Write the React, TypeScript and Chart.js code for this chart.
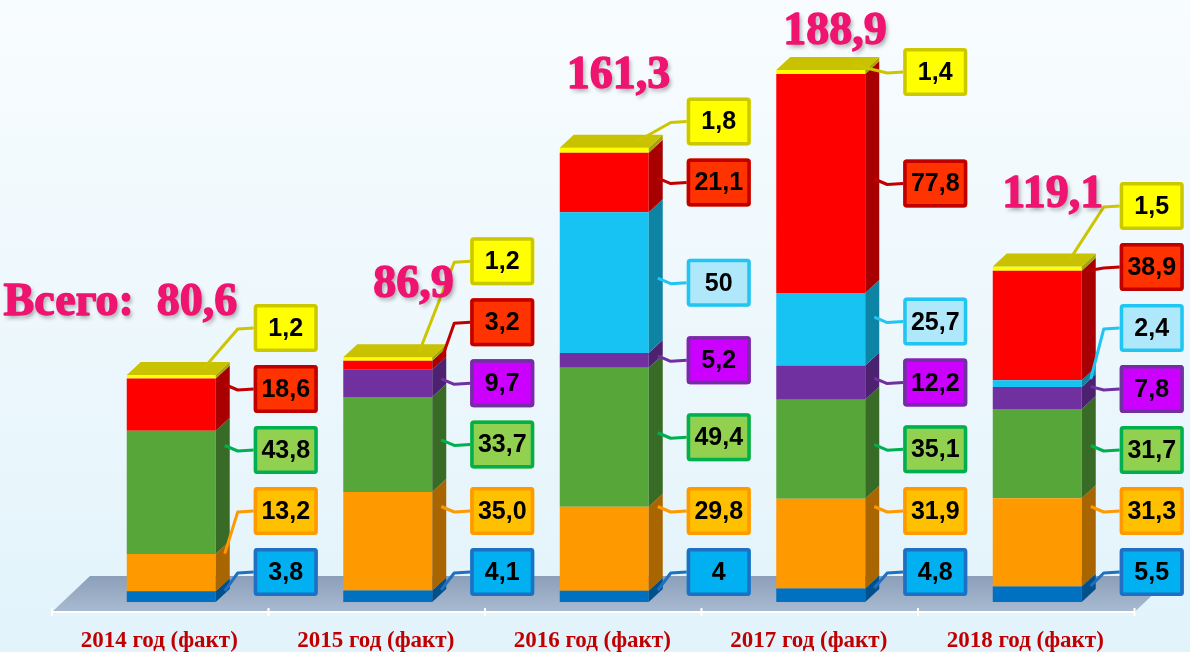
import React, { useEffect, useRef } from "react";
import { Chart, registerables } from "chart.js";

Chart.register(...registerables);

// ---------- data ----------
const categories = [
  "2014 год (факт)",
  "2015 год (факт)",
  "2016 год (факт)",
  "2017 год (факт)",
  "2018 год (факт)",
];
const blueValues = [3.8, 4.1, 4, 4.8, 5.5];
const orangeValues = [13.2, 35.0, 29.8, 31.9, 31.3];
const greenValues = [43.8, 33.7, 49.4, 35.1, 31.7];
const purpleValues = [0, 9.7, 5.2, 12.2, 7.8];
const cyanValues = [0, 0, 50, 25.7, 2.4];
const redValues = [18.6, 3.2, 21.1, 77.8, 38.9];
const yellowValues = [1.2, 1.2, 1.8, 1.4, 1.5];
const totals = [80.6, 86.9, 161.3, 188.9, 119.1];
const totalPrefix = "Всего:  ";
// labels that keep a trailing zero in the source picture: "series-category"
const trailingZeroLabels = ["1-1"];

// ---------- styles ----------
const seriesStyles = [
  { name: "blue", front: "#0070C0", side: "#00508C", box: "#00B0F0", border: "#1F6FC2", line: "#1F6FC2" },
  { name: "orange", front: "#FF9900", side: "#A86500", box: "#FFC000", border: "#FF9900", line: "#FF9900" },
  { name: "green", front: "#56A63A", side: "#386B25", box: "#92D050", border: "#00B050", line: "#00B050" },
  { name: "purple", front: "#7030A0", side: "#4C2170", box: "#CC00FF", border: "#7030A0", line: "#7030A0" },
  { name: "cyan", front: "#16C3F3", side: "#0E84A4", box: "#AEE8FA", border: "#21C5F2", line: "#21C5F2" },
  { name: "red", front: "#FF0000", side: "#A80000", box: "#FF3300", border: "#C00000", line: "#C00000" },
  { name: "yellow", front: "#FFFF00", side: "#A8A400", box: "#FFFF00", border: "#CCC800", line: "#CCC500" },
];
const seriesValues = [blueValues, orangeValues, greenValues, purpleValues, cyanValues, redValues, yellowValues];

const DX = 14;
const DY = -13;
const TOP_FACE = "#C8C200";

function fmt(v: number, s: number, c: number): string {
  if (trailingZeroLabels.includes(`${s}-${c}`)) return v.toFixed(1).replace(".", ",");
  return (Number.isInteger(v) ? String(v) : v.toFixed(1)).replace(".", ",");
}

function roundRect(ctx: CanvasRenderingContext2D, x: number, y: number, w: number, h: number, r: number) {
  ctx.beginPath();
  ctx.moveTo(x + r, y);
  ctx.lineTo(x + w - r, y);
  ctx.quadraticCurveTo(x + w, y, x + w, y + r);
  ctx.lineTo(x + w, y + h - r);
  ctx.quadraticCurveTo(x + w, y + h, x + w - r, y + h);
  ctx.lineTo(x + r, y + h);
  ctx.quadraticCurveTo(x, y + h, x, y + h - r);
  ctx.lineTo(x, y + r);
  ctx.quadraticCurveTo(x, y, x + r, y);
  ctx.closePath();
}

const decorPlugin = {
  id: "decor",
  beforeDraw(chart: any) {
    const { ctx, width, height } = chart;
    const g = ctx.createLinearGradient(0, 0, 0, height);
    g.addColorStop(0, "#F8FCFE");
    g.addColorStop(1, "#E2F3FB");
    ctx.save();
    ctx.fillStyle = g;
    ctx.fillRect(0, 0, width, height);
    ctx.restore();
  },
  beforeDatasetsDraw(chart: any) {
    const ctx: CanvasRenderingContext2D = chart.ctx;
    const xs = chart.scales.x;
    const ys = chart.scales.y;
    const y0 = ys.getPixelForValue(0);
    const shift = -11;
    const fb = y0 + 10;
    const ft = y0 - 26;
    const L = xs.left + shift;
    const R = xs.right + shift;
    const slant = 38;
    ctx.save();
    const g = ctx.createLinearGradient(0, ft, 0, fb);
    g.addColorStop(0, "#8C9FB9");
    g.addColorStop(1, "#A9BBD1");
    ctx.fillStyle = g;
    ctx.beginPath();
    ctx.moveTo(L, fb);
    ctx.lineTo(L + slant, ft);
    ctx.lineTo(R + slant, ft);
    ctx.lineTo(R, fb);
    ctx.closePath();
    ctx.fill();
    // white front edge + ticks
    ctx.strokeStyle = "#FFFFFF";
    ctx.lineWidth = 2;
    ctx.beginPath();
    ctx.moveTo(L, fb);
    ctx.lineTo(R, fb);
    ctx.stroke();
    const step = (xs.right - xs.left) / categories.length;
    ctx.beginPath();
    for (let i = 0; i <= categories.length; i++) {
      const tx = xs.left + shift + step * i;
      ctx.moveTo(tx, fb - 4);
      ctx.lineTo(tx, fb + 4);
    }
    ctx.stroke();
    // category labels
    ctx.fillStyle = "#C00000";
    ctx.font = "bold 23px 'Liberation Serif', 'Times New Roman', serif";
    ctx.textAlign = "center";
    ctx.textBaseline = "alphabetic";
    categories.forEach((c, i) => {
      ctx.fillText(c, xs.getPixelForValue(i) - 12, 647);
    });
    ctx.restore();
  },
  afterDatasetsDraw(chart: any) {
    const ctx: CanvasRenderingContext2D = chart.ctx;
    const ys = chart.scales.y;
    const y0 = ys.getPixelForValue(0);
    ctx.save();
    // side faces
    seriesValues.forEach((vals, s) => {
      const meta = chart.getDatasetMeta(s);
      meta.data.forEach((bar: any, c: number) => {
        if (!vals[c]) return;
        const p = bar.getProps(["x", "y", "base", "width"], true);
        const right = p.x + p.width / 2;
        const top = Math.min(p.y, p.base);
        const bot = Math.max(p.y, p.base);
        ctx.fillStyle = seriesStyles[s].side;
        ctx.beginPath();
        ctx.moveTo(right, top);
        ctx.lineTo(right + DX, top + DY);
        ctx.lineTo(right + DX, bot + DY);
        ctx.lineTo(right, bot);
        ctx.closePath();
        ctx.fill();
      });
    });
    // top faces
    const meta0 = chart.getDatasetMeta(0);
    categories.forEach((_, c) => {
      const p = meta0.data[c].getProps(["x", "width"], true);
      const left = p.x - p.width / 2;
      const right = p.x + p.width / 2;
      let sum = 0;
      seriesValues.forEach((vals) => (sum += vals[c]));
      const top = ys.getPixelForValue(sum);
      ctx.fillStyle = TOP_FACE;
      ctx.beginPath();
      ctx.moveTo(left, top);
      ctx.lineTo(right, top);
      ctx.lineTo(right + DX, top + DY);
      ctx.lineTo(left + DX, top + DY);
      ctx.closePath();
      ctx.fill();
    });

    // value labels with leaders
    const BOX_W = 64;
    const BOX_H = 48;
    categories.forEach((_, c) => {
      const p = meta0.data[c].getProps(["x", "width"], true);
      const right = p.x + p.width / 2;
      const boxLeft = right + 38;
      let cum = 0;
      let prev = Infinity;
      seriesValues.forEach((vals, s) => {
        const v = vals[c];
        if (!v) return;
        const segBot = ys.getPixelForValue(cum);
        const segTop = ys.getPixelForValue(cum + v);
        cum += v;
        const center = (segTop + segBot) / 2;
        const ly = Math.min(center, y0 - 30, prev - 61);
        prev = ly;
        const st = seriesStyles[s];
        // leader
        let ax: number;
        let ay: number;
        if (s === seriesValues.length - 1) {
          ax = right - 13;
          ay = segTop + DY / 2 + 1;
        } else {
          ax = right + 9;
          if (segBot - segTop < 8) ay = center;
          else ay = Math.max(segTop + 4, Math.min(segBot - 4, ly));
          ay += DY / 2 + 2;
        }
        ctx.strokeStyle = st.line;
        ctx.lineWidth = 3;
        ctx.lineJoin = "round";
        ctx.beginPath();
        ctx.moveTo(boxLeft, ly);
        ctx.lineTo(boxLeft - 16, ly + 1);
        ctx.lineTo(ax, ay);
        ctx.stroke();
        // box
        roundRect(ctx, boxLeft, ly - BOX_H / 2, BOX_W, BOX_H, 3);
        ctx.fillStyle = st.box;
        ctx.fill();
        ctx.lineWidth = 3.5;
        ctx.strokeStyle = st.border;
        roundRect(ctx, boxLeft + 1.75, ly - BOX_H / 2 + 1.75, BOX_W - 3.5, BOX_H - 3.5, 2);
        ctx.stroke();
        ctx.fillStyle = "#000000";
        ctx.font = "bold 25px 'Liberation Sans', Arial, sans-serif";
        ctx.textAlign = "center";
        ctx.textBaseline = "middle";
        ctx.fillText(fmt(v, s, c), boxLeft + BOX_W / 2, ly + 1);
      });
    });

    // totals
    ctx.font = "bold 46px 'Liberation Serif', 'Times New Roman', serif";
    ctx.textAlign = "right";
    ctx.textBaseline = "alphabetic";
    ctx.fillStyle = "#EE1470";
    ctx.strokeStyle = "#EE1470";
    ctx.lineWidth = 1.4;
    ctx.lineJoin = "round";
    totals.forEach((t, c) => {
      const p = meta0.data[c].getProps(["x"], true);
      const top = ys.getPixelForValue(t);
      const base = Math.max(top - 60, 44);
      const txt = (c === 0 ? totalPrefix : "") + t.toFixed(1).replace(".", ",");
      const tx = p.x + 66;
      ctx.save();
      ctx.shadowColor = "rgba(0,0,0,0.35)";
      ctx.shadowOffsetX = 2;
      ctx.shadowOffsetY = 3;
      ctx.shadowBlur = 4;
      ctx.fillText(txt, tx, base);
      ctx.restore();
      ctx.strokeText(txt, tx, base);
      ctx.fillText(txt, tx, base);
    });
    ctx.restore();
  },
};

export default function App() {
  const canvasRef = useRef<HTMLCanvasElement | null>(null);
  useEffect(() => {
    const canvas = canvasRef.current;
    if (!canvas) return;
    const chart = new Chart(canvas, {
      type: "bar",
      data: {
        labels: categories,
        datasets: seriesValues.map((vals, s) => ({
          label: seriesStyles[s].name,
          data: vals,
          backgroundColor: seriesStyles[s].front,
          borderWidth: 0,
          categoryPercentage: 1,
          barPercentage: 0.411,
        })),
      },
      options: {
        animation: false,
        responsive: false,
        devicePixelRatio: 1,
        layout: { padding: { left: 63, right: 44.5, top: 38.74, bottom: 50 } },
        scales: {
          x: { stacked: true, display: false },
          y: { stacked: true, display: false, min: 0, max: 200 },
        },
        plugins: { legend: { display: false }, tooltip: { enabled: false } },
      },
      plugins: [decorPlugin],
    } as any);
    return () => chart.destroy();
  }, []);
  return (
    <div style={{ position: "absolute", left: 0, top: 0, width: 1190, height: 652, overflow: "hidden" }}>
      <canvas ref={canvasRef} width={1190} height={652} style={{ width: 1190, height: 652, display: "block" }} />
    </div>
  );
}
